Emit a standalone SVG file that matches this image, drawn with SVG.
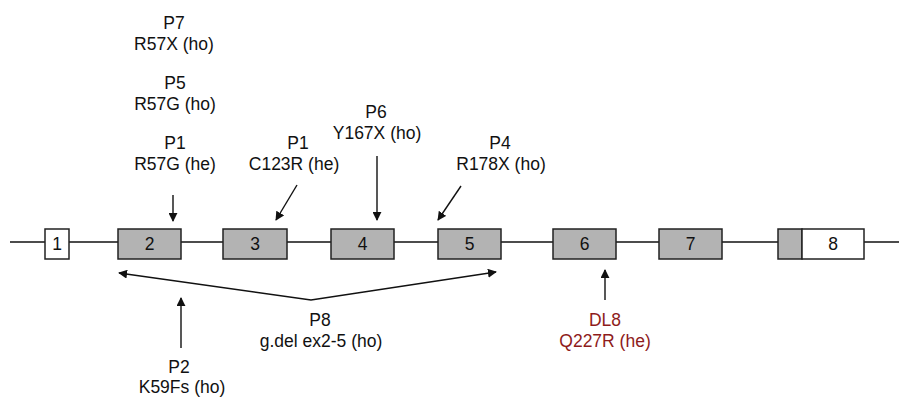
<svg xmlns="http://www.w3.org/2000/svg" width="899" height="397" viewBox="0 0 899 397">
  <defs>
    <marker id="arrow" viewBox="0 0 10 10" refX="9" refY="5" markerWidth="9" markerHeight="9" markerUnits="userSpaceOnUse" orient="auto-start-reverse">
      <path d="M0,0 L10,5 L0,10 Z" fill="#111"/>
    </marker>
  </defs>
  <style>
    text { font-family: "Liberation Sans", Arial, Helvetica, sans-serif; font-size: 17.5px; fill: #111; text-anchor: middle; }
    .red { fill: #8e1b1b; }
    .exon { fill: #b3b3b3; stroke: #222; stroke-width: 1.5; }
    .utr { fill: #ffffff; stroke: #222; stroke-width: 1.5; }
    .line { stroke: #111; stroke-width: 1.4; fill: none; }
    .arr { stroke: #111; stroke-width: 1.4; fill: none; marker-end: url(#arrow); }
  </style>
  <rect width="899" height="397" fill="#ffffff"/>

  <!-- gene backbone -->
  <g id="backbone">
    <line class="line" x1="10" y1="242" x2="899" y2="242"/>
  </g>

  <!-- exons -->
  <g id="exon1"><rect class="utr" x="45" y="229" width="24" height="30"/><text x="57" y="250">1</text></g>
  <g id="exon2"><rect class="exon" x="118" y="229" width="63" height="30"/><text x="149.5" y="250">2</text></g>
  <g id="exon3"><rect class="exon" x="223" y="229" width="64" height="30"/><text x="255" y="250">3</text></g>
  <g id="exon4"><rect class="exon" x="331" y="229" width="63" height="30"/><text x="362.5" y="250">4</text></g>
  <g id="exon5"><rect class="exon" x="438" y="229" width="63" height="30"/><text x="469.5" y="250">5</text></g>
  <g id="exon6"><rect class="exon" x="553" y="229" width="63" height="30"/><text x="584.5" y="250">6</text></g>
  <g id="exon7"><rect class="exon" x="659" y="229" width="63" height="30"/><text x="690.5" y="250">7</text></g>
  <g id="exon8">
    <rect class="exon" x="778" y="229" width="24" height="30"/>
    <rect class="utr" x="802" y="229" width="62" height="30"/>
    <text x="833" y="250">8</text>
  </g>

  <!-- variant labels -->
  <g id="p7"><text x="174" y="29">P7</text><text x="174" y="50">R57X (ho)</text></g>
  <g id="p5"><text x="175" y="89">P5</text><text x="175" y="110">R57G (ho)</text></g>
  <g id="p1-ex2"><text x="175" y="149">P1</text><text x="175" y="170">R57G (he)</text></g>
  <g id="p1-ex3"><text x="298" y="149">P1</text><text x="294" y="170">C123R (he)</text></g>
  <g id="p6"><text x="376" y="118">P6</text><text x="377" y="139">Y167X (ho)</text></g>
  <g id="p4"><text x="500" y="149">P4</text><text x="501" y="170">R178X (ho)</text></g>
  <g id="p8"><text x="320" y="326">P8</text><text x="321" y="347">g.del ex2-5 (ho)</text></g>
  <g id="dl8"><text class="red" x="605" y="326">DL8</text><text class="red" x="605" y="347">Q227R (he)</text></g>
  <g id="p2"><text x="179" y="373">P2</text><text x="182" y="393">K59Fs (ho)</text></g>

  <!-- connectors -->
  <g id="connectors">
    <line class="arr" x1="173" y1="195" x2="173" y2="221"/>
    <line class="arr" x1="297" y1="185" x2="276" y2="220"/>
    <line class="arr" x1="377" y1="156" x2="377" y2="220"/>
    <line class="arr" x1="461" y1="186" x2="438" y2="220"/>
    <line class="arr" x1="181" y1="348" x2="181" y2="298"/>
    <line class="arr" x1="605" y1="300" x2="605" y2="270"/>
    <polyline class="line" points="119,273 311,300 496,272" marker-start="url(#arrow)" marker-end="url(#arrow)"/>
  </g>
</svg>
